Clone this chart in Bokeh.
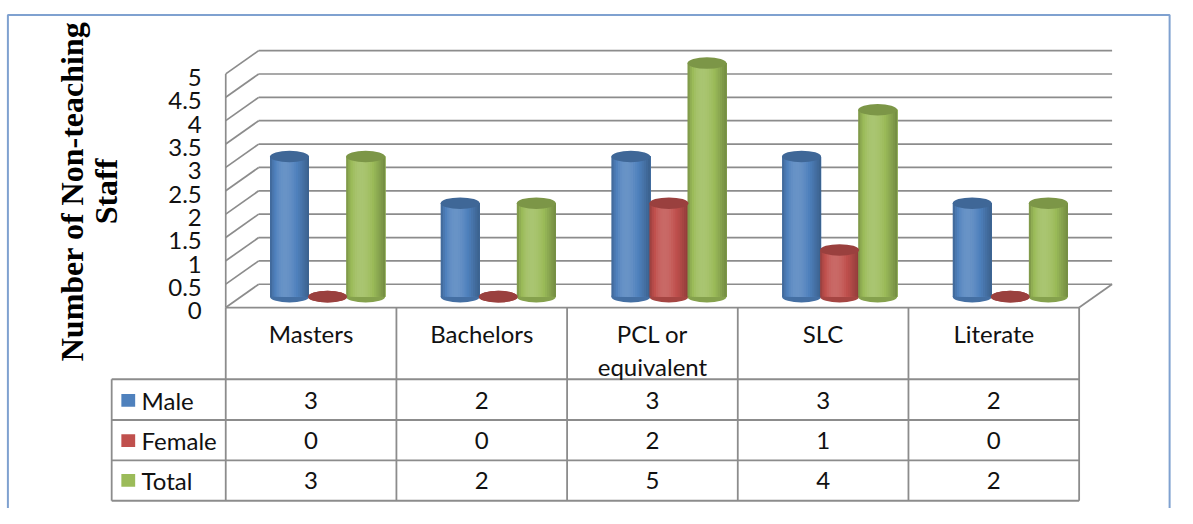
import numpy as np
from bokeh.plotting import figure
from bokeh.models import Range1d
from bokeh.core.properties import value
from bokeh.embed import file_html
from bokeh.resources import INLINE

# ---------------- data ----------------
categories = ["Masters", "Bachelors", "PCL or\nequivalent", "SLC", "Literate"]
series_names = ["Male", "Female", "Total"]
male = [3, 2, 3, 3, 2]
female = [0, 0, 2, 1, 0]
total = [3, 2, 5, 4, 2]
y_ticks = [0, 0.5, 1, 1.5, 2, 2.5, 3, 3.5, 4, 4.5, 5]
y_tick_labels = ["0", "0.5", "1", "1.5", "2", "2.5", "3", "3.5", "4", "4.5", "5"]
y_title_lines = ["Number of Non-teaching", "Staff"]
series_colors = ["#4F81BD", "#C0504D", "#9BBB59"]
series_values = [male, female, total]

# ---------------- layout helpers (reference px -> data) ----------------
W, H = 1177, 508
REF_W, REF_H = 1193, 524
X0, PX_X = 228.3, 173.0    # ref x of category 0 front edge, px per category
Y0, PX_Y = 316.7, 48.2     # ref y of value 0 on front plane, px per unit


def X(sx):
    return (sx - X0) / PX_X


def Y(sy):
    return (Y0 - sy) / PX_Y


p = figure(width=W, height=H,
           x_range=Range1d(X(0), X(REF_W)), y_range=Range1d(Y(REF_H), Y(0)),
           output_backend="svg", toolbar_location=None,
           x_axis_type=None, y_axis_type=None)
p.min_border_left = p.min_border_right = p.min_border_top = p.min_border_bottom = 0
p.outline_line_color = None
p.background_fill_color = "white"
p.border_fill_color = "white"

FONT = "Lato"
GRID = "#8C8C8C"
TXT = "#111111"
FS = "24px"

# outer border
p.line([X(7.5), X(7.5), X(1185), X(1185)], [Y(560), Y(15), Y(15), Y(560)],
       line_color="#7FA1D0", line_width=2)

# ---------------- 3D walls ----------------
n = len(categories)
DX = 33.4 / PX_X
DY = 24.0 / PX_Y

# back wall gridlines
p.segment(x0=[DX] * len(y_ticks), y0=[t + DY for t in y_ticks],
          x1=[n + DX] * len(y_ticks), y1=[t + DY for t in y_ticks],
          line_color=GRID, line_width=1.7)
# side wall diagonals
p.segment(x0=[0] * len(y_ticks), y0=y_ticks,
          x1=[DX] * len(y_ticks), y1=[t + DY for t in y_ticks],
          line_color=GRID, line_width=1.7)
# front left edge and floor right edge
p.segment(x0=[0, n], y0=[0, 0], x1=[0, n + DX], y1=[y_ticks[-1], DY],
          line_color=GRID, line_width=1.7)

# ---------------- cylinders ----------------
def shade(hexc, f):
    h = hexc.lstrip("#")
    rgb = [int(h[i:i + 2], 16) for i in (0, 2, 4)]
    out = []
    for c in rgb:
        if f >= 1:
            v = c + (255 - c) * (f - 1) * 1.2
        else:
            v = c * f
        out.append(int(max(0, min(255, round(v)))))
    return "#%02x%02x%02x" % tuple(out)


base = Y(305.5)
shift = DX / 2
bw = 39.5 / PX_X
spacing = 0.223
eh = 12.0 / PX_Y
NS = 18

bot_x, bot_y, bot_c = [], [], []
top_x, top_y, top_c = [], [], []
q_l, q_r, q_b, q_t, q_c = [], [], [], [], []
for k in range(n):
    for j, vals in enumerate(series_values):
        v = vals[k]
        cx = k + 0.5 + (j - 1) * spacing + shift
        col = series_colors[j]
        bot_x.append(cx); bot_y.append(base); bot_c.append(shade(col, 0.86))
        top_x.append(cx); top_y.append(base + v); top_c.append(shade(col, 0.8))
        if v > 0:
            for i in range(NS):
                u = (i + 0.5) / NS
                f = 0.74 + 0.38 * np.sin(np.pi * u ** 0.72)
                q_l.append(cx - bw / 2 + i / NS * bw)
                q_r.append(cx + bw / 2)
                q_b.append(base)
                q_t.append(base + v)
                q_c.append(shade(col, f))

p.ellipse(x=bot_x, y=bot_y, width=bw, height=eh, fill_color=bot_c, line_color=None)
p.quad(left=q_l, right=q_r, bottom=q_b, top=q_t, fill_color=q_c, line_color=None)
p.ellipse(x=top_x, y=top_y, width=bw, height=eh, fill_color=top_c, line_color=None)

# ---------------- y tick labels & title ----------------
p.text(x=[X(204)] * len(y_ticks), y=[t - 3.5 / PX_Y for t in y_ticks], text=y_tick_labels,
       text_font=value(FONT), text_font_size=FS, text_color=TXT,
       text_align="right", text_baseline="middle")

p.text(x=[X(72), X(107)], y=[Y(197), Y(197)], text=y_title_lines, angle=np.pi / 2,
       text_font=value("Liberation Serif"), text_font_style="bold", text_font_size="32px",
       text_color="#000000", text_align="center", text_baseline="middle")

# ---------------- data table ----------------
hdr_bot = Y(390.7)
row_bots = [Y(432.7), Y(474.3), Y(516.0)]
label_left = X(112.7)

# horizontal lines
p.segment(x0=[0] + [label_left] * 4, y0=[0, hdr_bot] + row_bots,
          x1=[n] * 5, y1=[0, hdr_bot] + row_bots,
          line_color=GRID, line_width=1.8)
# vertical lines
p.segment(x0=list(range(n + 1)) + [label_left], y0=[0] * (n + 1) + [hdr_bot],
          x1=list(range(n + 1)) + [label_left], y1=[row_bots[-1]] * (n + 2),
          line_color=GRID, line_width=1.8)

# header texts
hx, hy, ht = [], [], []
for k, c in enumerate(categories):
    for li, line in enumerate(c.split("\n")):
        hx.append(k + 0.5)
        hy.append(Y(344 + 33.5 * li))
        ht.append(line)
p.text(x=hx, y=hy, text=ht, text_font=value(FONT), text_font_size=FS,
       text_color=TXT, text_align="center", text_baseline="middle")

row_centers = [Y(412.5), Y(454.0), Y(495.0)]
# legend keys
p.rect(x=[X(129.5)] * 3, y=row_centers, width=14 / PX_X, height=13 / PX_Y,
       fill_color=series_colors, line_color=None)
p.text(x=[X(143)] * 3, y=row_centers, text=series_names, text_font=value(FONT),
       text_font_size=FS, text_color=TXT, text_align="left", text_baseline="middle")

# values
vx, vy, vt = [], [], []
for j, vals in enumerate(series_values):
    for k, v in enumerate(vals):
        vx.append(k + 0.5)
        vy.append(row_centers[j])
        vt.append(str(v))
p.text(x=vx, y=vy, text=vt, text_font=value(FONT), text_font_size=FS,
       text_color=TXT, text_align="center", text_baseline="middle")

open("out.html", "w").write(file_html(p, INLINE))
